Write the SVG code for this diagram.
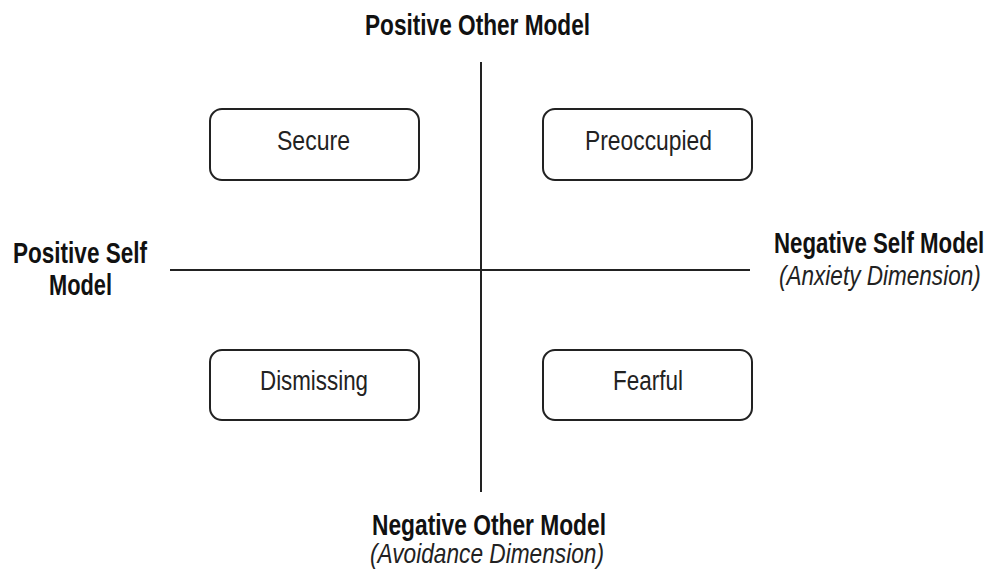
<svg xmlns="http://www.w3.org/2000/svg" width="993" height="570" viewBox="0 0 993 570">
<style>
.box{fill:#fff;stroke:#222;stroke-width:2}
.ax{stroke:#222;stroke-width:2;fill:none}
text{font-family:"Liberation Sans",Arial,sans-serif}
.lbl{font-size:27px;fill:#222}
.b{font-size:29px;font-weight:bold;fill:#111}
.i{font-size:28px;font-style:italic;fill:#222}
</style>
<rect width="993" height="570" fill="#fff"/>
<g id="connectors">
<line class="ax" x1="481" y1="62" x2="481" y2="492"/>
<line class="ax" x1="170" y1="270" x2="750" y2="270"/>
</g>
<g id="secure"><rect class="box" x="210" y="109" width="209" height="71" rx="12"/><text class="lbl" x="277" y="150" textLength="73" lengthAdjust="spacingAndGlyphs">Secure</text></g>
<g id="preoccupied"><rect class="box" x="543" y="109" width="209" height="71" rx="12"/><text class="lbl" x="585" y="150" textLength="127" lengthAdjust="spacingAndGlyphs">Preoccupied</text></g>
<g id="dismissing"><rect class="box" x="210" y="350" width="209" height="70" rx="12"/><text class="lbl" x="260" y="390" textLength="108" lengthAdjust="spacingAndGlyphs">Dismissing</text></g>
<g id="fearful"><rect class="box" x="543" y="350" width="209" height="70" rx="12"/><text class="lbl" x="613" y="390" textLength="70" lengthAdjust="spacingAndGlyphs">Fearful</text></g>
<g id="top-label"><text class="b" x="365" y="35" textLength="225" lengthAdjust="spacingAndGlyphs">Positive Other Model</text></g>
<g id="left-label"><text class="b" x="13" y="263" textLength="134" lengthAdjust="spacingAndGlyphs">Positive Self</text><text class="b" x="49" y="295" textLength="63" lengthAdjust="spacingAndGlyphs">Model</text></g>
<g id="right-label"><text class="b" transform="translate(774,253) scale(0.768,1)">Negative Self Model</text><text class="i" transform="translate(779,285) scale(0.806,1)">(Anxiety Dimension)</text></g>
<g id="bottom-label"><text class="b" x="372" y="535" textLength="234" lengthAdjust="spacingAndGlyphs">Negative Other Model</text><text class="i" x="370" y="563" textLength="234" lengthAdjust="spacingAndGlyphs">(Avoidance Dimension)</text></g>
</svg>
